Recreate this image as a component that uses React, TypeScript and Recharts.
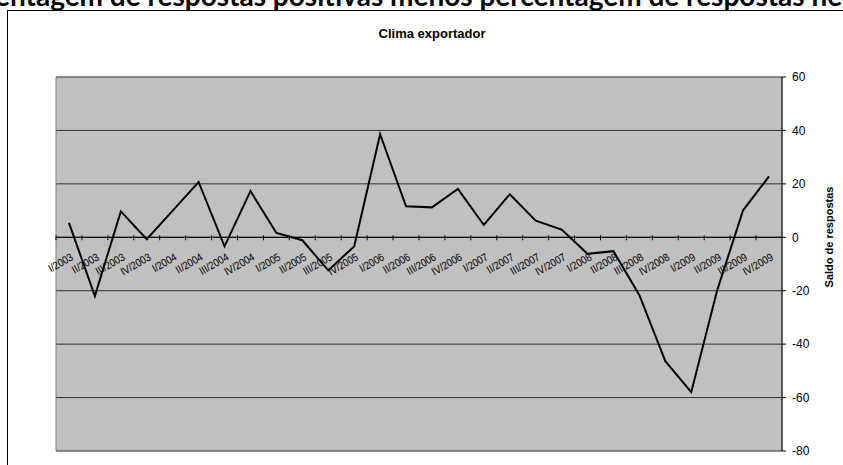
import React from 'react';
import { LineChart, Line, XAxis, YAxis, CartesianGrid, ReferenceLine, ReferenceArea, ReferenceDot } from 'recharts';

const quarters = [
  'I/2003', 'II/2003', 'III/2003', 'IV/2003',
  'I/2004', 'II/2004', 'III/2004', 'IV/2004',
  'I/2005', 'II/2005', 'III/2005', 'IV/2005',
  'I/2006', 'II/2006', 'III/2006', 'IV/2006',
  'I/2007', 'II/2007', 'III/2007', 'IV/2007',
  'I/2008', 'II/2008', 'III/2008', 'IV/2008',
  'I/2009', 'II/2009', 'III/2009', 'IV/2009',
];

// saldo de respostas (% positivas - % negativas)
const saldo = [
  5.4, -22, 9.7, -0.7,
  10, 20.7, -3.4, 17.3,
  1.6, -1.1, -12.4, -3.4,
  38.6, 11.6, 11.2, 18.1,
  4.6, 16.1, 6.2, 2.9,
  -6.2, -5.2, -21.7, -46.4,
  -58, -19.8, 10.1, 22.8,
];

const yTicks = [-80, -60, -40, -20, 0, 20, 40, 60];

const data = quarters.map((q, i) => ({ q, saldo: saldo[i] }));

const W = 843;
const H = 465;
const M = { top: 77, right: 11, bottom: 14, left: 56 };
const Y_AXIS_W = 50;
const BAND = (W - M.left - M.right - Y_AXIS_W) / quarters.length;
const FONT = '"Liberation Sans", Arial, sans-serif';

const QuarterMark = ({ cx, cy, text }: { cx: number; cy: number; text: string }) => {
  const tx = cx + 5;
  const ty = cy + 22;
  return (
    <g>
      <line x1={cx - BAND / 2} x2={cx - BAND / 2} y1={cy - 2} y2={cy + 3} stroke="#000" strokeWidth={1} />
      <text
        x={0}
        y={0}
        transform={`translate(${tx} ${ty}) rotate(-30) scale(0.87 1)`}
        textAnchor="end"
        fontSize={11}
        fontFamily={FONT}
        fill="#000"
      >
        {text}
      </text>
    </g>
  );
};

const App: React.FC = () => {
  return (
    <div style={{ position: 'absolute', left: 0, top: 0, width: W, height: H, overflow: 'hidden', background: '#fff' }}>
      <svg width={W} height={H} style={{ position: 'absolute', left: 0, top: 0 }}>
        <rect x={7.5} y={10.5} width={900} height={500} fill="none" stroke="#000" strokeWidth={1} />
        <text x={435} y={6} textAnchor="middle" fontSize={28} fontWeight="bold" fontFamily="Lato, 'Open Sans', sans-serif" fill="#000">
          Percentagem de respostas positivas menos percentagem de respostas negativas
        </text>
        <text x={432} y={38} textAnchor="middle" fontSize={13} fontWeight="bold" fontFamily={FONT} fill="#000">
          Clima exportador
        </text>
        <text
          x={830}
          y={237}
          transform="rotate(-90 830 237)"
          textAnchor="middle"
          dominantBaseline="middle"
          fontSize={11}
          fontWeight="bold"
          fontFamily={FONT}
          fill="#000"
        >
          Saldo de respostas
        </text>
      </svg>
      <div style={{ position: 'absolute', left: 0, top: 0 }}>
        <LineChart width={W} height={H} data={data} margin={M}>
          <CartesianGrid vertical={false} fill="#C0C0C0" stroke="#333" strokeWidth={1} />
          <XAxis dataKey="q" scale="band" hide />
          <YAxis
            orientation="right"
            width={Y_AXIS_W}
            domain={[-80, 60]}
            ticks={yTicks}
            interval={0}
            tickSize={4}
            tickMargin={6}
            stroke="#000"
            tick={{ fontSize: 12, fill: '#000', fontFamily: FONT }}
          />
          <ReferenceArea y1={-80} y2={60} fill="none" stroke="#808080" strokeWidth={1} />
          <ReferenceLine y={0} stroke="#000" strokeWidth={1} />
          {quarters.map((q) => (
            <ReferenceDot
              key={q}
              x={q}
              y={0}
              r={0}
              shape={(p: any) => <QuarterMark cx={p.cx} cy={p.cy} text={q} />}
            />
          ))}
          <Line
            type="linear"
            dataKey="saldo"
            stroke="#000"
            strokeWidth={2}
            dot={false}
            activeDot={false}
            isAnimationActive={false}
          />
        </LineChart>
      </div>
    </div>
  );
};

export default App;
